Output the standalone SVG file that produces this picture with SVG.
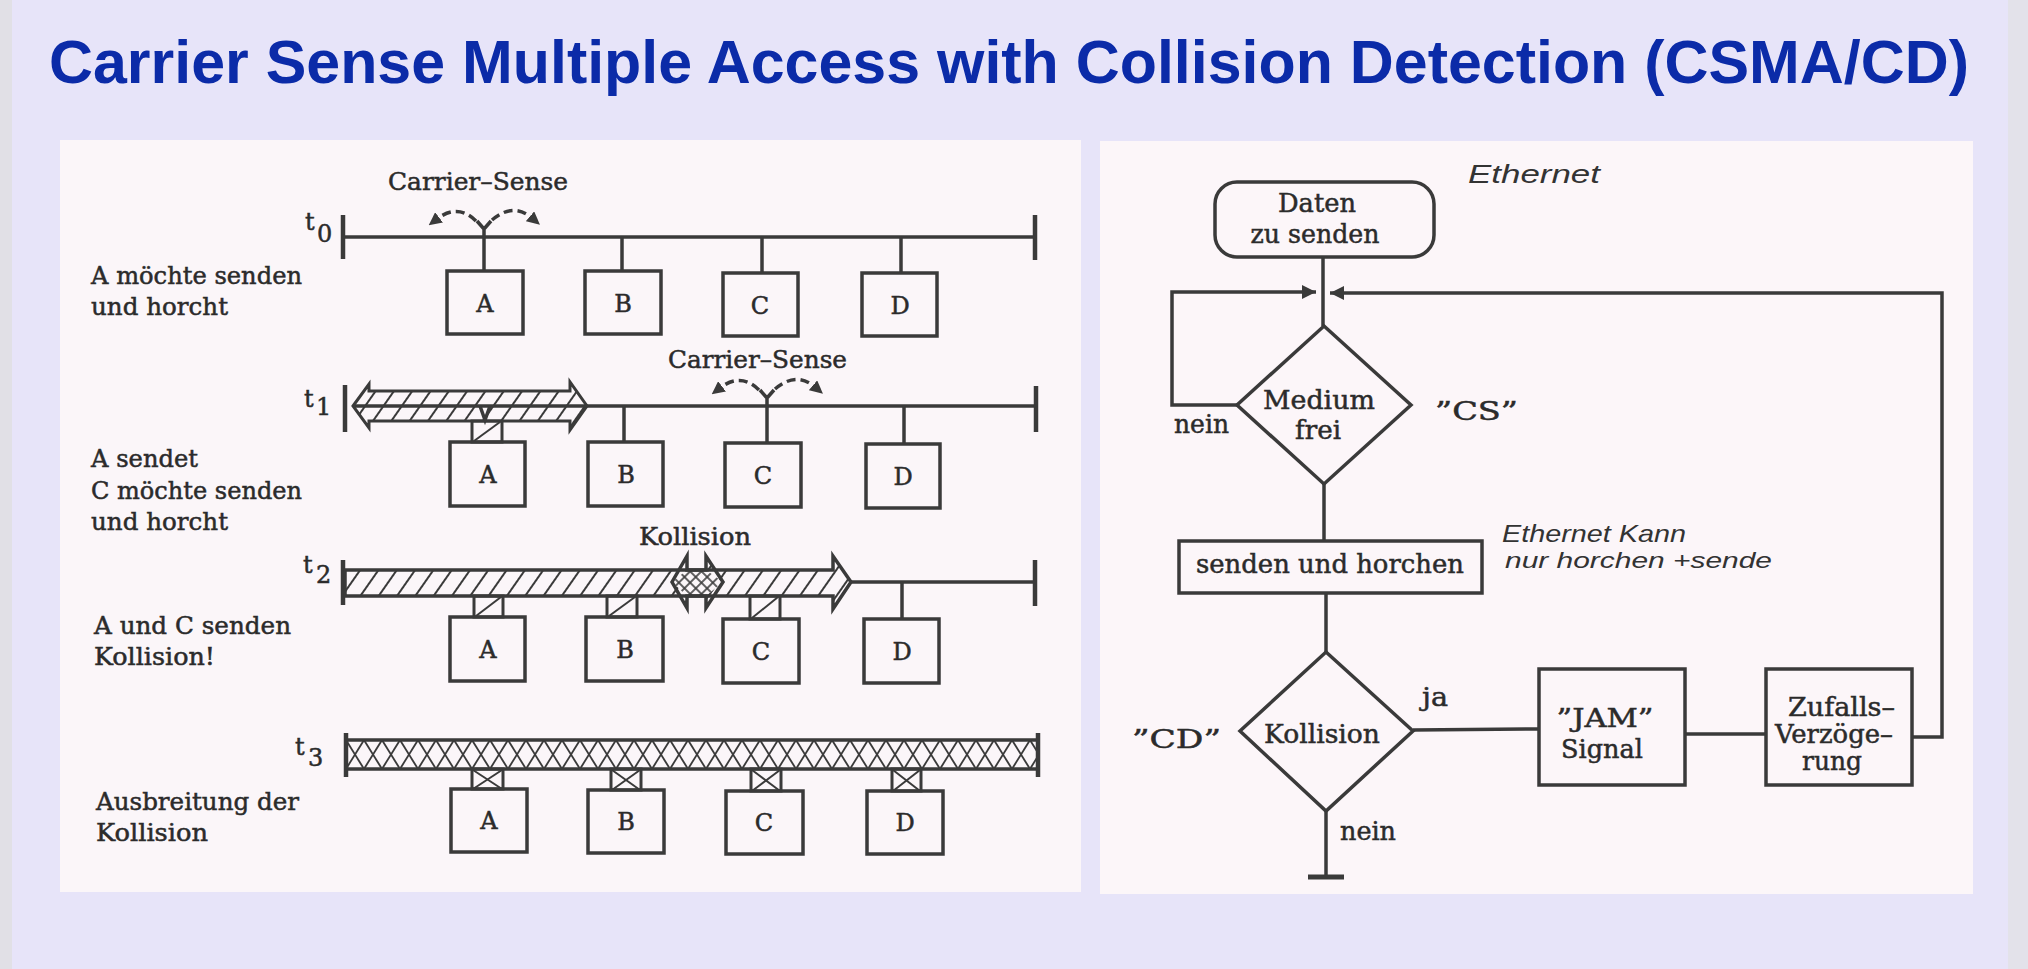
<svg xmlns="http://www.w3.org/2000/svg" width="2028" height="969" viewBox="0 0 2028 969">
<style>
.ln{stroke:#3a3a3a;stroke-width:3.5;fill:none;stroke-linecap:butt}
.bx{stroke:#3a3a3a;stroke-width:3.5;fill:none}
.bar{stroke:#3a3a3a;stroke-width:4.5}
.st{font-family:"DejaVu Serif","Liberation Serif",serif;fill:#2b2b2b;stroke:#2b2b2b;stroke-width:0.5;font-size:24px}
.lt{font-family:"DejaVu Serif","Liberation Serif",serif;fill:#2b2b2b;stroke:#2b2b2b;stroke-width:0.5;font-size:24px;text-anchor:middle}
.fc{font-family:"DejaVu Serif","Liberation Serif",serif;fill:#2b2b2b;stroke:#2b2b2b;stroke-width:0.5;font-size:26px}
.fm{font-family:"DejaVu Serif","Liberation Serif",serif;fill:#2b2b2b;stroke:#2b2b2b;stroke-width:0.5;font-size:26px;text-anchor:middle}
.hw{font-family:"Liberation Sans","DejaVu Sans",sans-serif;fill:#333;font-style:italic}
.ds{stroke:#3a3a3a;stroke-width:3.5;fill:none;stroke-dasharray:9 5}
.hs{stroke:#3a3a3a;stroke-width:2}
</style>
<defs>
<pattern id="h1" patternUnits="userSpaceOnUse" width="15" height="15" patternTransform="rotate(35)">
<line x1="7" y1="0" x2="7" y2="15" stroke="#3a3a3a" stroke-width="2"/>
</pattern>
<pattern id="x3" patternUnits="userSpaceOnUse" x="346" y="740" width="18" height="29">
<line x1="0" y1="0" x2="18" y2="29" stroke="#3a3a3a" stroke-width="1.8"/>
<line x1="0" y1="29" x2="18" y2="0" stroke="#3a3a3a" stroke-width="1.8"/>
</pattern>
<pattern id="xg" patternUnits="userSpaceOnUse" width="8" height="8" patternTransform="rotate(45)">
<line x1="4" y1="0" x2="4" y2="8" stroke="#3a3a3a" stroke-width="1.6"/>
<line x1="0" y1="4" x2="8" y2="4" stroke="#3a3a3a" stroke-width="1.6"/>
</pattern>
<marker id="cs" viewBox="0 0 10 10" refX="2" refY="5" markerWidth="13" markerHeight="13" markerUnits="userSpaceOnUse" orient="auto">
<path d="M0,0 L10,5 L0,10 z" fill="#3a3a3a"/>
</marker>
<marker id="fa" viewBox="0 0 10 10" refX="10" refY="5" markerWidth="15" markerHeight="14" markerUnits="userSpaceOnUse" orient="auto">
<path d="M0,0 L10,5 L0,10 z" fill="#3a3a3a"/>
</marker>
</defs>

<rect x="0" y="0" width="2028" height="969" fill="#E7E4F9"/>
<rect x="0" y="0" width="12" height="969" fill="#E1E0E6"/>
<rect x="2008" y="0" width="20" height="969" fill="#E3E2EA"/>

<g id="title">
<text x="49" y="83" font-family="Liberation Sans, Arial, sans-serif" font-weight="bold" font-size="61" fill="#0B2BA8" textLength="1920" lengthAdjust="spacingAndGlyphs">Carrier Sense Multiple Access with Collision Detection (CSMA/CD)</text>
</g>

<rect id="panel-left" x="60" y="140" width="1021" height="752" fill="#FBF6F9"/>
<rect id="panel-right" x="1100" y="141" width="873" height="753" fill="#FCF6F9"/>

<!-- Row t0 -->
<g id="row-t0">
<text class="st" x="305" y="230" font-size="30">t</text>
<text class="st" x="317" y="242" font-size="21">0</text>
<line class="bar" x1="343" y1="215" x2="343" y2="259"/>
<line class="bar" x1="1035" y1="215" x2="1035" y2="260"/>
<line class="ln" x1="343" y1="237" x2="1035" y2="237"/>
<line class="ln" x1="484" y1="237" x2="484" y2="271"/>
<line class="ln" x1="622" y1="237" x2="622" y2="271"/>
<line class="ln" x1="762" y1="237" x2="762" y2="273"/>
<line class="ln" x1="901" y1="237" x2="901" y2="273"/>
<rect class="bx" x="447" y="271" width="76" height="63"/>
<rect class="bx" x="585" y="271" width="76" height="63"/>
<rect class="bx" x="723" y="273" width="75" height="63"/>
<rect class="bx" x="862" y="273" width="75" height="63"/>
<text class="lt" x="485" y="312">A</text>
<text class="lt" x="623" y="312">B</text>
<text class="lt" x="760" y="314">C</text>
<text class="lt" x="900" y="314">D</text>
<text class="st" x="388" y="190" font-size="25" textLength="180" lengthAdjust="spacingAndGlyphs">Carrier–Sense</text>
<path class="ln" d="M484,237 V229 L477,221 M484,229 L491,221" stroke-width="3"/>
<path class="ds" d="M476,221 Q458,203 437,219" marker-end="url(#cs)"/>
<path class="ds" d="M492,220 Q513,202 532,218" marker-end="url(#cs)"/>
<text class="st" x="91" y="284" textLength="211" lengthAdjust="spacingAndGlyphs">A möchte senden</text>
<text class="st" x="91" y="315" textLength="137" lengthAdjust="spacingAndGlyphs">und horcht</text>
</g>

<!-- Row t1 -->
<g id="row-t1">
<text class="st" x="304" y="407" font-size="30">t</text>
<text class="st" x="316" y="415" font-size="21">1</text>
<line class="bar" x1="345" y1="385" x2="345" y2="432"/>
<line class="bar" x1="1036" y1="386" x2="1036" y2="432"/>
<line class="ln" x1="587" y1="406" x2="1036" y2="406"/>
<polygon points="353,406 369,384 369,391 570,391 570,382 587,406 570,430 570,421 369,421 369,428" fill="url(#h1)" stroke="#3a3a3a" stroke-width="3"/>
<line class="ln" x1="353" y1="406" x2="587" y2="406" stroke-width="3"/>
<path class="ln" d="M480,406 L485,420 L490,406" stroke-width="2"/>
<rect x="472" y="421" width="30" height="21" fill="none" stroke="#3a3a3a" stroke-width="3"/>
<line class="hs" x1="474" y1="441" x2="500" y2="422"/>
<line class="ln" x1="624" y1="406" x2="624" y2="442"/>
<line class="ln" x1="767" y1="406" x2="767" y2="443"/>
<line class="ln" x1="904" y1="406" x2="904" y2="444"/>
<rect class="bx" x="450" y="442" width="75" height="64"/>
<rect class="bx" x="588" y="442" width="75" height="64"/>
<rect class="bx" x="725" y="443" width="76" height="64"/>
<rect class="bx" x="866" y="444" width="74" height="64"/>
<text class="lt" x="488" y="483">A</text>
<text class="lt" x="626" y="483">B</text>
<text class="lt" x="763" y="484">C</text>
<text class="lt" x="903" y="485">D</text>
<text class="st" x="668" y="368" font-size="25" textLength="179" lengthAdjust="spacingAndGlyphs">Carrier–Sense</text>
<path class="ln" d="M767,406 V398 L760,390 M767,398 L774,390" stroke-width="3"/>
<path class="ds" d="M759,390 Q741,372 720,388" marker-end="url(#cs)"/>
<path class="ds" d="M775,389 Q796,371 815,387" marker-end="url(#cs)"/>
<text class="st" x="91" y="467" textLength="107" lengthAdjust="spacingAndGlyphs">A sendet</text>
<text class="st" x="91" y="499" textLength="211" lengthAdjust="spacingAndGlyphs">C möchte senden</text>
<text class="st" x="91" y="530" textLength="137" lengthAdjust="spacingAndGlyphs">und horcht</text>
</g>

<!-- Row t2 -->
<g id="row-t2">
<text class="st" x="303" y="573" font-size="30">t</text>
<text class="st" x="316" y="583" font-size="21">2</text>
<line class="bar" x1="343" y1="560" x2="343" y2="605"/>
<line class="bar" x1="1035" y1="560" x2="1035" y2="606"/>
<line class="ln" x1="851" y1="582" x2="1035" y2="582"/>
<polygon points="345,570 706,570 706,556 723,582 706,608 706,596 345,596" fill="url(#h1)"/>
<polygon points="672,582 687,556 687,570 833,570 833,556 851,582 833,609 833,596 687,596 687,608" fill="url(#h1)"/>
<polygon points="672,582 687,570 706,570 723,582 706,596 687,596" fill="#FBF6F9"/>
<polygon points="672,582 687,570 706,570 723,582 706,596 687,596" fill="url(#xg)"/>
<polygon points="345,570 706,570 706,556 723,582 706,608 706,596 345,596" fill="none" stroke="#3a3a3a" stroke-width="3.5"/>
<polygon points="672,582 687,556 687,570 833,570 833,556 851,582 833,609 833,596 687,596 687,608" fill="none" stroke="#3a3a3a" stroke-width="3.5"/>
<rect x="474" y="596" width="29" height="21" fill="none" stroke="#3a3a3a" stroke-width="3"/>
<line class="hs" x1="476" y1="616" x2="501" y2="597"/>
<rect x="607" y="596" width="30" height="21" fill="none" stroke="#3a3a3a" stroke-width="3"/>
<line class="hs" x1="609" y1="616" x2="635" y2="597"/>
<rect x="750" y="596" width="30" height="23" fill="none" stroke="#3a3a3a" stroke-width="3"/>
<line class="hs" x1="752" y1="618" x2="778" y2="597"/>
<line class="ln" x1="902" y1="582" x2="902" y2="619"/>
<rect class="bx" x="450" y="617" width="75" height="64"/>
<rect class="bx" x="586" y="617" width="77" height="64"/>
<rect class="bx" x="723" y="619" width="76" height="64"/>
<rect class="bx" x="864" y="619" width="75" height="64"/>
<text class="lt" x="488" y="658">A</text>
<text class="lt" x="625" y="658">B</text>
<text class="lt" x="761" y="660">C</text>
<text class="lt" x="902" y="660">D</text>
<text class="st" x="639" y="545" textLength="112" lengthAdjust="spacingAndGlyphs">Kollision</text>
<text class="st" x="94" y="634" textLength="197" lengthAdjust="spacingAndGlyphs">A und C senden</text>
<text class="st" x="94" y="665" textLength="121" lengthAdjust="spacingAndGlyphs">Kollision!</text>
</g>

<!-- Row t3 -->
<g id="row-t3">
<text class="st" x="295" y="755" font-size="30">t</text>
<text class="st" x="308" y="766" font-size="21">3</text>
<rect x="346" y="740" width="692" height="29" fill="url(#x3)" stroke="#3a3a3a" stroke-width="3.5"/>
<line class="bar" x1="346" y1="733" x2="346" y2="777"/>
<line class="bar" x1="1038" y1="733" x2="1038" y2="777"/>
<g stroke="#3a3a3a" stroke-width="2">
<line x1="473" y1="770" x2="502" y2="789"/><line x1="473" y1="789" x2="502" y2="770"/>
<line x1="612" y1="770" x2="640" y2="790"/><line x1="612" y1="790" x2="640" y2="770"/>
<line x1="752" y1="770" x2="780" y2="791"/><line x1="752" y1="791" x2="780" y2="770"/>
<line x1="893" y1="770" x2="920" y2="791"/><line x1="893" y1="791" x2="920" y2="770"/>
</g>
<rect x="472" y="769" width="31" height="20" fill="none" stroke="#3a3a3a" stroke-width="3"/>
<rect x="611" y="769" width="30" height="21" fill="none" stroke="#3a3a3a" stroke-width="3"/>
<rect x="751" y="769" width="30" height="22" fill="none" stroke="#3a3a3a" stroke-width="3"/>
<rect x="892" y="769" width="29" height="22" fill="none" stroke="#3a3a3a" stroke-width="3"/>
<rect class="bx" x="451" y="789" width="76" height="63"/>
<rect class="bx" x="588" y="790" width="76" height="63"/>
<rect class="bx" x="726" y="791" width="77" height="63"/>
<rect class="bx" x="867" y="791" width="76" height="63"/>
<text class="lt" x="489" y="829">A</text>
<text class="lt" x="626" y="830">B</text>
<text class="lt" x="764" y="831">C</text>
<text class="lt" x="905" y="831">D</text>
<text class="st" x="96" y="810" textLength="203" lengthAdjust="spacingAndGlyphs">Ausbreitung der</text>
<text class="st" x="96" y="841" textLength="112" lengthAdjust="spacingAndGlyphs">Kollision</text>
</g>

<!-- Flowchart connectors -->
<g id="connectors">
<line class="ln" x1="1323" y1="257" x2="1323" y2="326"/>
<path class="ln" d="M1237,405 H1172 V292 H1316" marker-end="url(#fa)"/>
<path class="ln" d="M1912,737 H1942 V293 H1330" marker-end="url(#fa)"/>
<line class="ln" x1="1324" y1="484" x2="1324" y2="541"/>
<line class="ln" x1="1326" y1="593" x2="1326" y2="652"/>
<line class="ln" x1="1413" y1="730" x2="1539" y2="729"/>
<line class="ln" x1="1685" y1="734" x2="1766" y2="734"/>
<line class="ln" x1="1326" y1="811" x2="1326" y2="877"/>
<line x1="1308" y1="877" x2="1344" y2="877" stroke="#3a3a3a" stroke-width="5"/>
<text class="fc" x="1174" y="433" textLength="55" lengthAdjust="spacingAndGlyphs">nein</text>
<text class="fc" x="1422" y="706" textLength="26" lengthAdjust="spacingAndGlyphs">ja</text>
<text class="fc" x="1340" y="840" textLength="56" lengthAdjust="spacingAndGlyphs">nein</text>
</g>

<g id="node-start">
<rect class="bx" x="1215" y="182" width="219" height="75" rx="22"/>
<text class="fm" x="1317" y="212" textLength="78" lengthAdjust="spacingAndGlyphs">Daten</text>
<text class="fm" x="1315" y="243" textLength="129" lengthAdjust="spacingAndGlyphs">zu senden</text>
</g>

<g id="node-medium-frei">
<polygon class="bx" points="1324,326 1411,405 1324,484 1237,405"/>
<text class="fm" x="1319" y="409" textLength="112" lengthAdjust="spacingAndGlyphs">Medium</text>
<text class="fm" x="1318" y="439" textLength="46" lengthAdjust="spacingAndGlyphs">frei</text>
<text class="fc" x="1435" y="420" font-size="32" textLength="83" lengthAdjust="spacingAndGlyphs">”CS”</text>
</g>

<g id="node-senden">
<rect class="bx" x="1179" y="541" width="303" height="52"/>
<text class="fm" x="1330" y="573" textLength="268" lengthAdjust="spacingAndGlyphs">senden und horchen</text>
</g>

<g id="node-kollision">
<polygon class="bx" points="1326,652 1413,731 1326,811 1240,731"/>
<text class="fm" x="1322" y="743" textLength="116" lengthAdjust="spacingAndGlyphs">Kollision</text>
<text class="fc" x="1132" y="748" font-size="32" textLength="89" lengthAdjust="spacingAndGlyphs">”CD”</text>
</g>

<g id="node-jam">
<rect class="bx" x="1539" y="669" width="146" height="116"/>
<text class="fm" x="1605" y="727" textLength="97" lengthAdjust="spacingAndGlyphs">”JAM”</text>
<text class="fm" x="1602" y="758" textLength="82" lengthAdjust="spacingAndGlyphs">Signal</text>
</g>

<g id="node-zufall">
<rect class="bx" x="1766" y="669" width="146" height="116"/>
<text class="fc" x="1788" y="716" font-size="20" textLength="107" lengthAdjust="spacingAndGlyphs">Zufalls–</text>
<text class="fc" x="1775" y="743" font-size="20" textLength="118" lengthAdjust="spacingAndGlyphs">Verzöge–</text>
<text class="fc" x="1802" y="770" font-size="20" textLength="60" lengthAdjust="spacingAndGlyphs">rung</text>
</g>

<g id="notes">
<text class="hw" x="1468" y="183" font-size="25" textLength="132" lengthAdjust="spacingAndGlyphs">Ethernet</text>
<text class="hw" x="1502" y="542" font-size="24" textLength="184" lengthAdjust="spacingAndGlyphs">Ethernet Kann</text>
<text class="hw" x="1505" y="568" font-size="22" textLength="267" lengthAdjust="spacingAndGlyphs">nur horchen +sende</text>
</g>
</svg>
